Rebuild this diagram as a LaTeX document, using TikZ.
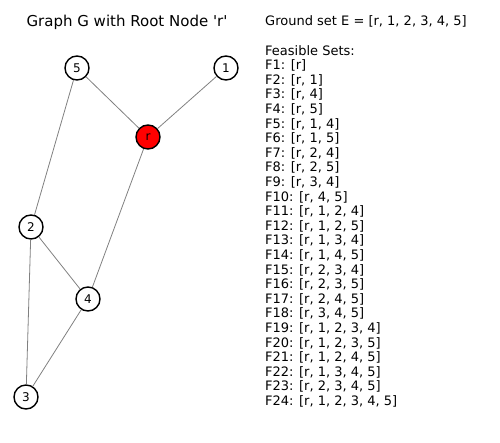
\documentclass[tikz,border=0pt]{standalone}
\usepackage{fontspec}
\setmainfont{DejaVu Sans}

\begin{document}
\begin{tikzpicture}[x=1pt, y=-1pt,
        vertex/.style={circle, draw=black, line width=1.4pt, fill=white,
            minimum size=24pt, inner sep=0pt, font=\fontsize{12}{12}\selectfont},
        rootvertex/.style={vertex, fill=red},
        link/.style={draw=gray, line width=0.8pt}]
                \useasboundingbox (0,0) rectangle (500,442);
                \node[anchor=base, font=\fontsize{15}{18}\selectfont] (title) at (127,26.5) {Graph G with Root Node \textquotesingle r\textquotesingle};
                % vertices of G
                \node[rootvertex] (r) at (148,137) {r};
                \node[vertex] (v1) at (226,68) {1};
                \node[vertex] (v2) at (31,227) {2};
                \node[vertex] (v3) at (26,397) {3};
                \node[vertex] (v4) at (88,299) {4};
                \node[vertex] (v5) at (77,68) {5};
                % edges
                \draw[link] (v5) -- (r);
                \draw[link] (v1) -- (r);
                \draw[link] (v5) -- (v2);
                \draw[link] (r) -- (v4);
                \draw[link] (v2) -- (v4);
                \draw[link] (v2) -- (v3);
                \draw[link] (v4) -- (v3);
                % ground set and feasible sets (base = last line)
                \node[anchor=base west, inner sep=0pt, align=left,
                    font=\fontsize{13}{14.6}\selectfont] (sets) at (265,405.5)
                    {Ground set E = [r, 1, 2, 3, 4, 5]\\[14.6pt]
                    Feasible Sets:\\
                    F1: [r]\\
                    F2: [r, 1]\\
                    F3: [r, 4]\\
                    F4: [r, 5]\\
                    F5: [r, 1, 4]\\
                    F6: [r, 1, 5]\\
                    F7: [r, 2, 4]\\
                    F8: [r, 2, 5]\\
                    F9: [r, 3, 4]\\
                    F10: [r, 4, 5]\\
                    F11: [r, 1, 2, 4]\\
                    F12: [r, 1, 2, 5]\\
                    F13: [r, 1, 3, 4]\\
                    F14: [r, 1, 4, 5]\\
                    F15: [r, 2, 3, 4]\\
                    F16: [r, 2, 3, 5]\\
                    F17: [r, 2, 4, 5]\\
                    F18: [r, 3, 4, 5]\\
                    F19: [r, 1, 2, 3, 4]\\
                    F20: [r, 1, 2, 3, 5]\\
                    F21: [r, 1, 2, 4, 5]\\
                    F22: [r, 1, 3, 4, 5]\\
                    F23: [r, 2, 3, 4, 5]\\
                    F24: [r, 1, 2, 3, 4, 5]};
\end{tikzpicture}
\end{document}
